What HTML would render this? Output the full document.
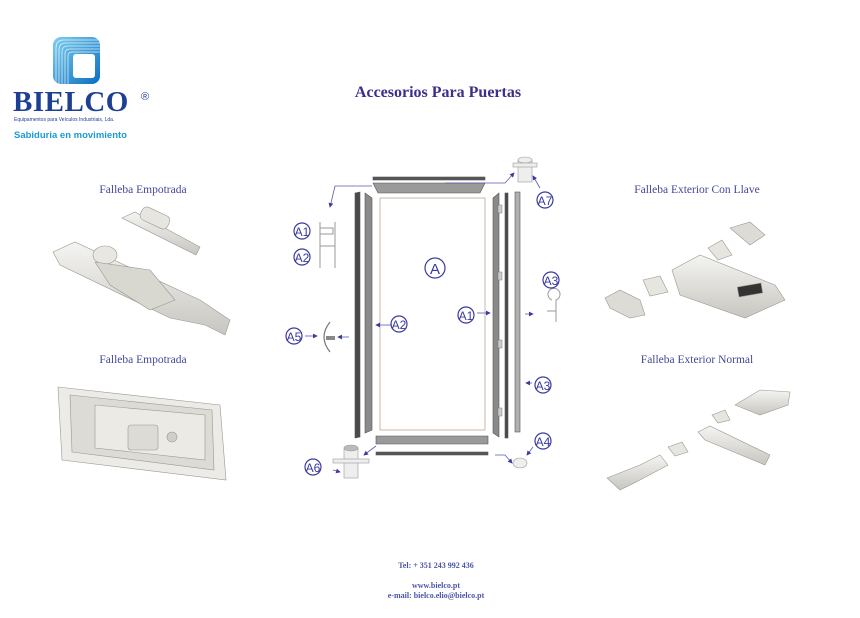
<!DOCTYPE html>
<html><head><meta charset="utf-8"><style>
html,body{margin:0;padding:0;background:#fff;}
body{width:860px;height:613px;overflow:hidden;}
</style></head><body>
<svg width="860" height="613" viewBox="0 0 860 613" xmlns="http://www.w3.org/2000/svg" font-family="Liberation Serif, serif">
<defs>
<linearGradient id="lg" x1="0" y1="0" x2="1" y2="1"><stop offset="0" stop-color="#7fd0f0"/><stop offset="1" stop-color="#0a6fc0"/></linearGradient>
<linearGradient id="mt" x1="0" y1="0" x2="0" y2="1"><stop offset="0" stop-color="#f4f4f2"/><stop offset="1" stop-color="#c8c6c0"/></linearGradient>
<marker id="ar" markerWidth="6" markerHeight="6" refX="5" refY="3" orient="auto"><path d="M0,0 L6,3 L0,6 Z" fill="#3a3aa0"/></marker>
</defs>
<!-- logo -->
<rect x="53" y="37" width="47" height="47" rx="8" fill="url(#lg)"/>
<g fill="none" stroke="#fff" stroke-width="0.8" opacity="0.8">
<path d="M56,84 V48 Q56,40 64,40 H100"/><path d="M59,84 V50 Q59,43 66,43 H100"/><path d="M62,84 V52 Q62,46 68,46 H100"/><path d="M65,84 V54 Q65,49 70,49 H100"/><path d="M68,84 V56 Q68,52 72,52 H100"/>
</g>
<rect x="73" y="54" width="22" height="24" rx="3" fill="#fff"/>
<text x="13" y="111" font-size="29" font-weight="bold" fill="#1d3f94" letter-spacing="0.5">BIELCO</text>
<text x="141" y="100" font-size="11" fill="#1d3f94" font-family="Liberation Sans, sans-serif">®</text>
<text x="14" y="121" font-size="5" fill="#1d3f94" font-family="Liberation Sans, sans-serif">Equipamentos para Veículos Industriais, Lda.</text>
<text x="14" y="138" font-size="9.5" font-weight="bold" fill="#1a9ad6" font-family="Liberation Sans, sans-serif">Sabiduria en movimiento</text>
<!-- title -->
<text x="438" y="97" font-size="16" font-weight="bold" fill="#3b2f8a" text-anchor="middle">Accesorios Para Puertas</text>
<!-- section labels -->
<g font-size="11.5" fill="#45479a" text-anchor="middle">
<text x="143" y="193">Falleba Empotrada</text>
<text x="143" y="363">Falleba Empotrada</text>
<text x="697" y="193">Falleba Exterior Con Llave</text>
<text x="697" y="363">Falleba Exterior Normal</text>
</g>
<!-- products left top -->
<g stroke="#9a988f" stroke-width="0.6">
<polygon points="122,218 135,212 200,247 196,255" fill="url(#mt)"/>
<rect x="140" y="211" width="30" height="14" rx="5" fill="#e6e5e0" transform="rotate(25 155 218)"/>
<polygon points="53,252 75,242 200,300 230,320 225,335 205,325 170,318 60,265" fill="url(#mt)"/>
<ellipse cx="105" cy="255" rx="12" ry="9" fill="#e8e7e2"/>
<polygon points="95,262 150,270 175,300 150,310 110,285" fill="#d8d7d0"/>
</g>
<!-- left bottom -->
<g stroke="#9a988f" stroke-width="0.6">
<polygon points="58,387 220,405 226,480 62,460" fill="#ecebe7"/>
<polygon points="70,395 212,410 214,470 72,452" fill="#dcdbd6"/>
<polygon points="95,405 205,415 205,460 95,448" fill="#ebeae5"/>
<rect x="128" y="425" width="30" height="25" rx="3" fill="#dcdbd6"/>
<circle cx="172" cy="437" r="5" fill="#cfcec8"/>
</g>
<!-- right top -->
<g stroke="#9a988f" stroke-width="0.6">
<polygon points="672,270 700,255 775,285 785,300 745,318 680,295" fill="url(#mt)"/>
<rect x="738" y="285" width="24" height="10" fill="#333" transform="rotate(-10 750 290)"/>
<polygon points="605,298 620,290 640,300 645,315 630,318 610,308" fill="#dcdbd6"/>
<polygon points="643,280 660,276 668,292 650,296" fill="#e6e5e0"/>
<polygon points="708,248 722,240 732,255 718,260" fill="#e6e5e0"/>
<polygon points="730,228 750,222 765,235 750,245" fill="#dcdbd6"/>
</g>
<!-- right bottom -->
<g stroke="#9a988f" stroke-width="0.6">
<polygon points="735,405 760,390 790,392 788,405 760,415" fill="url(#mt)"/>
<polygon points="698,432 710,426 770,455 765,465 705,440" fill="url(#mt)"/>
<polygon points="712,415 725,410 730,420 718,423" fill="#e6e5e0"/>
<polygon points="668,447 682,442 688,452 675,456" fill="#e6e5e0"/>
<polygon points="607,478 640,465 660,455 668,465 640,480 620,490" fill="url(#mt)"/>
</g>
<!-- door diagram -->
<g stroke="#555" stroke-width="0.6">
<rect x="373" y="177" width="112" height="3" fill="#555"/>
<polygon points="373,183 485,183 480,193 378,193" fill="#9a9a9a"/>
<polygon points="355,193 360,192 360,437 355,438" fill="#4a4a4a"/>
<polygon points="365,193 372,198 372,430 365,433" fill="#8a8a8a"/>
<rect x="380" y="198" width="105" height="232" fill="#fff" stroke="#a08878"/>
<polygon points="493,198 499,193 499,437 493,433" fill="#8a8a8a"/>
<rect x="505" y="193" width="3" height="245" fill="#4a4a4a"/>
<rect x="515" y="192" width="5" height="240" fill="#b0b0b0"/>
<polygon points="376,436 488,436 488,444 376,444" fill="#9a9a9a"/>
<rect x="376" y="452" width="112" height="3" fill="#555"/>
</g>
<rect x="498" y="205" width="4" height="8" fill="#ccc" stroke="#666" stroke-width="0.4"/>
<rect x="498" y="272" width="4" height="8" fill="#ccc" stroke="#666" stroke-width="0.4"/>
<rect x="498" y="340" width="4" height="8" fill="#ccc" stroke="#666" stroke-width="0.4"/>
<rect x="498" y="408" width="4" height="8" fill="#ccc" stroke="#666" stroke-width="0.4"/>
<!-- components -->
<g fill="none" stroke="#999" stroke-width="1">
<path d="M320,222 V268 M335,222 V268 M320,228 H333 V234 H320 M320,246 H335"/>
<path d="M552,300 A6,6 0 1 1 556,300 V322 M547,311 H556"/>
</g>
<path d="M330,322 Q318,337 330,352" fill="none" stroke="#777" stroke-width="1.2"/>
<rect x="326" y="336" width="9" height="4" fill="#888"/>
<g fill="#eee" stroke="#999" stroke-width="0.6">
<rect x="518" y="160" width="14" height="22"/><ellipse cx="525" cy="160" rx="7" ry="3"/><rect x="513" y="163" width="24" height="4"/>
<rect x="344" y="448" width="14" height="30"/><ellipse cx="351" cy="448" rx="7" ry="3" fill="#bbb"/><rect x="333" y="459" width="36" height="4"/>
<ellipse cx="520" cy="463" rx="7" ry="5"/>
</g>
<!-- arrows -->
<g stroke="#5a5ab0" stroke-width="0.8" fill="none" marker-end="url(#ar)">
<path d="M372,186 H335 L330,207"/>
<path d="M445,183 H505 L514,173"/>
<path d="M540,188 L533,176"/>
<path d="M349,337 H338"/>
<path d="M305,336 H317"/>
<path d="M392,325 H376"/>
<path d="M477,313 H490"/>
<path d="M525,314 H533"/>
<path d="M532,383 H526"/>
<path d="M376,446 L364,455"/>
<path d="M333,470 L340,472"/>
<path d="M495,455 H505 L512,463"/>
<path d="M533,447 L527,455"/>
</g>
<!-- circled labels -->
<g font-family="Liberation Sans, sans-serif" fill="#3a3aa0" text-anchor="middle" stroke="#3a3aa0">
<g stroke-width="1.2" fill="none">
<circle cx="302" cy="231" r="8"/><circle cx="302" cy="257" r="8"/><circle cx="435" cy="268" r="10"/><circle cx="551" cy="280" r="8"/>
<circle cx="466" cy="315" r="8"/><circle cx="399" cy="324" r="8"/><circle cx="294" cy="336" r="8"/><circle cx="543" cy="385" r="8"/>
<circle cx="543" cy="441" r="8"/><circle cx="313" cy="467" r="8"/><circle cx="545" cy="200" r="8"/>
</g>
<g stroke="none" font-size="12">
<text x="302" y="236">A1</text><text x="302" y="262">A2</text><text x="435" y="274" font-size="15">A</text><text x="551" y="285">A3</text>
<text x="466" y="320">A1</text><text x="399" y="329">A2</text><text x="294" y="341">A5</text><text x="543" y="390">A3</text>
<text x="543" y="446">A4</text><text x="313" y="472">A6</text><text x="545" y="205">A7</text>
</g>
</g>
<!-- footer -->
<g font-size="8" font-weight="bold" fill="#4a54a8" text-anchor="middle">
<text x="436" y="568">Tel: + 351 243 992 436</text>
<text x="436" y="588">www.bielco.pt</text>
<text x="436" y="598">e-mail: bielco.elio@bielco.pt</text>
</g>
</svg>
</body></html>
